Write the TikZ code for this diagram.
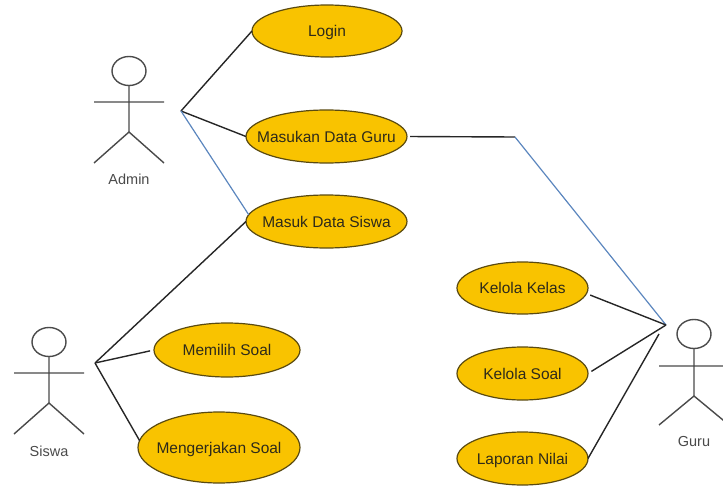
\documentclass[tikz,border=0pt]{standalone}
\usepackage{fontspec}
\setmainfont{Liberation Sans}
\usetikzlibrary{shapes.geometric}
\definecolor{ucfill}{HTML}{F9C300}
\definecolor{ucline}{HTML}{5A4A10}
\definecolor{actline}{HTML}{4A4A4A}
\definecolor{linkblue}{HTML}{5B86BE}
\definecolor{ink}{HTML}{2E2A1A}
\newcommand{\uclabel}[1]{\makebox[0pt][c]{#1}}
\tikzset{
  usecase/.style={ellipse,draw=ucline,fill=ucfill,line width=1.2pt,inner sep=0pt,outer sep=0pt,text=ink,text height=11pt,text depth=0pt,font=\fontsize{15.5}{17}\selectfont},
  actorhead/.style={ellipse,draw=actline,line width=1.4pt,inner sep=0pt,outer sep=0pt,minimum width=34pt,minimum height=29pt},
  actorlimb/.style={draw=actline,line width=1.4pt},
  actorlabel/.style={text=actline,inner sep=0pt,font=\fontsize{14.5}{16}\selectfont},
  blackline/.style={draw=black!85,line width=1.4pt},
  blueline/.style={draw=linkblue,line width=1.2pt}
}
\begin{document}
\begin{tikzpicture}[x=1pt,y=-1pt]
\useasboundingbox (0,0) rectangle (723,487);
% use cases
\node[usecase,minimum width=150pt,minimum height=52pt] (login) at (327,31) {\uclabel{Login}};
\node[usecase,minimum width=161pt,minimum height=53pt] (guru) at (326.5,136.5) {\uclabel{Masukan Data Guru}};
\node[usecase,minimum width=161pt,minimum height=53pt] (siswa) at (326.5,221.5) {\uclabel{Masuk Data Siswa}};
\node[usecase,minimum width=146pt,minimum height=54pt] (memilih) at (227,350) {\uclabel{Memilih Soal}};
\node[usecase,minimum width=162pt,minimum height=71pt] (kerja) at (219,447.5) {\uclabel{Mengerjakan Soal}};
\node[usecase,minimum width=131pt,minimum height=52pt] (kelas) at (522.5,288) {\uclabel{Kelola Kelas}};
\node[usecase,minimum width=131pt,minimum height=53pt] (soal) at (522.5,373.5) {\uclabel{Kelola Soal}};
\node[usecase,minimum width=131pt,minimum height=53pt] (nilai) at (522.5,458.5) {\uclabel{Laporan Nilai}};
% actors
\node[actorhead] (adminhead) at (129,71) {};
\draw[actorlimb] (adminhead.south) -- (129,132) (94,102) -- (164,102) (94,163) -- (129,132) -- (164,163);
\node[actorlabel] (adminlabel) at (129,179) {Admin};
\node[actorhead] (siswahead) at (49,342) {};
\draw[actorlimb] (siswahead.south) -- (49,403) (14,373) -- (84,373) (14,434) -- (49,403) -- (84,434);
\node[actorlabel] (siswalabel) at (49,451) {Siswa};
\node[actorhead] (guruhead) at (694,334) {};
\draw[actorlimb] (guruhead.south) -- (694,396) (659,366) -- (729,366) (659,425) -- (694,396) -- (729,425);
\node[actorlabel] (gurulabel) at (694,442) {Guru};
% hubs
\coordinate (adminhub) at (181,111);
\coordinate (siswahub) at (95,363);
\coordinate (guruhub) at (666,325);
\coordinate (guruhub2) at (659,334);
\coordinate (bend) at (515,137);
% connectors
\draw[blackline] (adminhub) -- (login.180);
\draw[blackline] (adminhub) -- (guru.180);
\draw[blueline] (adminhub) -- (siswa.175);
\draw[blackline] (siswahub) -- (siswa.180);
\draw[blackline,shorten >=4pt] (siswahub) -- (memilih.180);
\draw[blackline] (siswahub) -- (kerja.175);
\draw[blackline,shorten <=3pt] (guru.east) -- (bend);
\draw[blueline] (bend) -- (guruhub);
\draw[blackline,shorten >=4pt] (guruhub) -- (kelas.355);
\draw[blackline,shorten >=4pt] (guruhub) -- (soal.east);
\draw[blackline] (guruhub2) -- (nilai.east);
\end{tikzpicture}
\end{document}
